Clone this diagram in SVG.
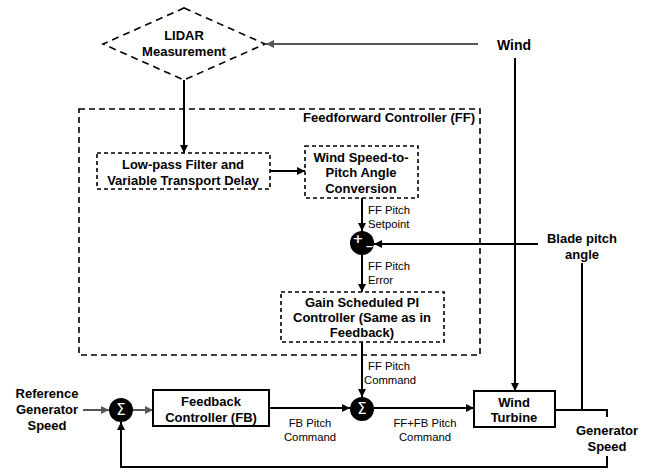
<svg xmlns="http://www.w3.org/2000/svg" width="648" height="472" viewBox="0 0 648 472">
<defs>
<marker id="ab" markerUnits="userSpaceOnUse" markerWidth="9" markerHeight="8" refX="8" refY="4" orient="auto"><path d="M0,0 L8,4 L0,8 Z" fill="#000"/></marker>
<marker id="ag" markerUnits="userSpaceOnUse" markerWidth="9" markerHeight="8" refX="8" refY="4" orient="auto"><path d="M0,0 L8,4 L0,8 Z" fill="#555"/></marker>
<style>
.b{font-family:"Liberation Sans",Arial,sans-serif;font-weight:bold;font-size:13px;fill:#000;text-anchor:middle;dominant-baseline:central}
.r{font-family:"Liberation Sans",Arial,sans-serif;font-size:11.3px;fill:#000;dominant-baseline:central}
.box{fill:#fff;stroke:#000;stroke-width:2}
.dbox{fill:#fff;stroke:#000;stroke-width:1.6;stroke-dasharray:4,3}
.ln{fill:none;stroke:#000;stroke-width:2}
.lg{fill:none;stroke:#555;stroke-width:2}
.sum{fill:#000}
.sym{font-family:"DejaVu Sans",sans-serif;font-weight:bold;fill:#fff;text-anchor:middle;dominant-baseline:central}
</style>
</defs>
<rect width="648" height="472" fill="#fff"/>

<g id="ff-controller">
<rect x="79" y="109" width="401" height="246" fill="none" stroke="#000" stroke-width="1.6" stroke-dasharray="6,4"/>
<text class="b" x="475" y="117" style="text-anchor:end">Feedforward Controller (FF)</text>
</g>

<g id="connectors">
<line class="lg" x1="478" y1="44" x2="266" y2="44" marker-end="url(#ag)"/>
<line class="ln" x1="184" y1="80" x2="184" y2="153" marker-end="url(#ab)"/>
<line class="ln" x1="270" y1="171" x2="305" y2="171" marker-end="url(#ab)"/>
<line class="ln" x1="362" y1="198" x2="362" y2="231" marker-end="url(#ab)"/>
<line class="ln" x1="538" y1="244" x2="374" y2="244" marker-end="url(#ab)"/>
<line class="ln" x1="362" y1="255" x2="362" y2="292" marker-end="url(#ab)"/>
<line class="ln" x1="362" y1="342" x2="362" y2="397" marker-end="url(#ab)"/>
<line class="ln" x1="269" y1="408" x2="350" y2="408" marker-end="url(#ab)"/>
<line class="ln" x1="374" y1="408" x2="474" y2="408" marker-end="url(#ab)"/>
<line class="ln" x1="515" y1="58" x2="515" y2="391" marker-end="url(#ab)"/>
<line class="ln" x1="582" y1="263" x2="582" y2="410"/>
<polyline class="ln" points="555,410 607,410 607,417"/>
<polyline class="ln" points="607,456 607,467 121,467 121,422" marker-end="url(#ab)"/>
<line class="lg" x1="83" y1="410" x2="109" y2="410" marker-end="url(#ag)"/>
<line class="lg" x1="133" y1="410" x2="153" y2="410" marker-end="url(#ag)"/>
<text class="r" x="368" y="210">FF Pitch</text>
<text class="r" x="368" y="224">Setpoint</text>
<text class="r" x="368" y="266">FF Pitch</text>
<text class="r" x="368" y="280">Error</text>
<text class="r" x="368" y="366">FF Pitch</text>
<text class="r" x="364" y="380">Command</text>
<text class="r" x="310" y="423" text-anchor="middle">FB Pitch</text>
<text class="r" x="310" y="437" text-anchor="middle">Command</text>
<text class="r" x="425" y="423" text-anchor="middle">FF+FB Pitch</text>
<text class="r" x="425" y="437" text-anchor="middle">Command</text>
</g>

<g id="lidar">
<polygon points="184,8 265,44 184,80 103,44" fill="#fff" stroke="#000" stroke-width="1.6" stroke-dasharray="7,5"/>
<text class="b" x="184" y="35">LIDAR</text>
<text class="b" x="184" y="51">Measurement</text>
</g>

<g id="wind">
<text class="b" x="514" y="45" style="font-size:14px">Wind</text>
</g>

<g id="lowpass">
<rect class="dbox" x="97" y="153" width="173" height="36"/>
<text class="b" x="183" y="164">Low-pass Filter and</text>
<text class="b" x="183" y="180">Variable Transport Delay</text>
</g>

<g id="ws2pitch">
<rect class="dbox" x="305" y="146" width="113" height="52"/>
<text class="b" x="361" y="157">Wind Speed-to-</text>
<text class="b" x="361" y="172">Pitch Angle</text>
<text class="b" x="361" y="188">Conversion</text>
</g>

<g id="ff-sum">
<circle class="sum" cx="362" cy="243" r="12"/>
<text class="sym" x="358" y="238" style="font-size:13px">+</text>
<text class="sym" x="369.5" y="246.5" style="font-size:10px">−</text>
</g>

<g id="blade">
<text class="b" x="582" y="238">Blade pitch</text>
<text class="b" x="582" y="254">angle</text>
</g>

<g id="gain-pi">
<rect class="dbox" x="281" y="292" width="163" height="50"/>
<text class="b" x="362" y="302">Gain Scheduled PI</text>
<text class="b" x="362" y="317">Controller (Same as in</text>
<text class="b" x="362" y="332">Feedback)</text>
</g>

<g id="reference">
<text class="b" x="47" y="393">Reference</text>
<text class="b" x="47" y="409">Generator</text>
<text class="b" x="47" y="425">Speed</text>
</g>

<g id="fb-sum">
<circle class="sum" cx="121" cy="410" r="12"/>
<text class="sym" x="121" y="410" style="font-size:15px;font-weight:normal">Σ</text>
</g>

<g id="feedback">
<rect class="box" x="153" y="390" width="116" height="36"/>
<text class="b" x="211" y="401">Feedback</text>
<text class="b" x="211" y="417">Controller (FB)</text>
</g>

<g id="total-sum">
<circle class="sum" cx="362" cy="409" r="12"/>
<text class="sym" x="362" y="409" style="font-size:15px;font-weight:normal">Σ</text>
</g>

<g id="turbine">
<rect class="box" x="474" y="391" width="81" height="36"/>
<text class="b" x="514" y="402">Wind</text>
<text class="b" x="514" y="417">Turbine</text>
</g>

<g id="gen-speed">
<text class="b" x="607" y="430">Generator</text>
<text class="b" x="607" y="446">Speed</text>
</g>
</svg>
